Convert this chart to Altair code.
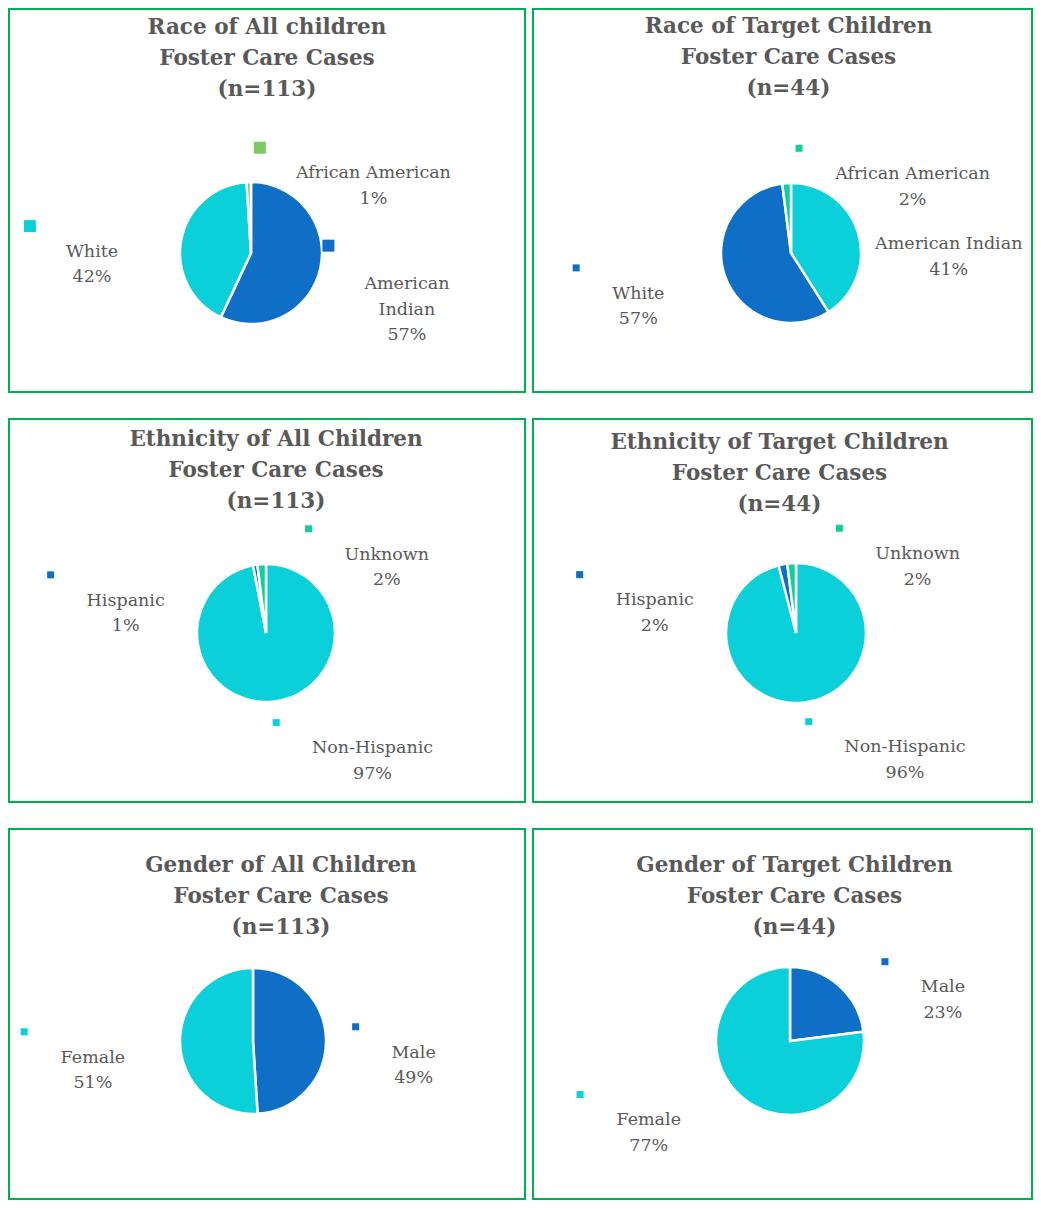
import math
import altair as alt
import pandas as pd

# ---------------- data ----------------
race_all_cats = ["American Indian", "White", "African American"]
race_all_vals = [57, 42, 1]
race_tgt_cats = ["American Indian", "White", "African American"]
race_tgt_vals = [41, 57, 2]
eth_all_cats = ["Non-Hispanic", "Hispanic", "Unknown"]
eth_all_vals = [97, 1, 2]
eth_tgt_cats = ["Non-Hispanic", "Hispanic", "Unknown"]
eth_tgt_vals = [96, 2, 2]
gen_all_cats = ["Male", "Female"]
gen_all_vals = [49, 51]
gen_tgt_cats = ["Male", "Female"]
gen_tgt_vals = [23, 77]

title_race_all = ["Race of All children", "Foster Care Cases", "(n=113)"]
title_race_tgt = ["Race of  Target Children", "Foster Care Cases", "(n=44)"]
title_eth_all = ["Ethnicity of All Children", "Foster Care Cases", "(n=113)"]
title_eth_tgt = ["Ethnicity of Target Children", "Foster Care Cases", "(n=44)"]
title_gen_all = ["Gender of All Children", "Foster Care Cases", "(n=113)"]
title_gen_tgt = ["Gender of Target Children", "Foster Care Cases", "(n=44)"]

# ---------------- styles ----------------
BLUE = "#0F6FC6"
CYAN = "#0BD0D9"
LGREEN = "#7CCA62"
TGREEN = "#10CF9B"
BORDER = "#00B050"
TEXT = "#595959"
FONT = "DejaVu Serif"
LABEL_SIZE = 17.5
LABEL_LH = 25.5
TITLE_SIZE = 21.5
TITLE_LH = 31

# approximate DejaVu Serif advance widths (em) for key placement
_W = {' ': .318, 'A': .722, 'C': .735, 'F': .683, 'H': .872, 'I': .42, 'M': 1.0,
      'N': .837, 'U': .812, 'W': 1.03, 'a': .596, 'c': .56, 'd': .64, 'e': .592,
      'f': .37, 'h': .644, 'i': .32, 'k': .62, 'l': .32, 'm': .948, 'n': .644,
      'o': .602, 'p': .64, 'r': .478, 's': .513, 't': .402, 'u': .644, 'w': .856,
      'y': .565, '-': .338, '%': .95}


def text_w(s):
    return sum(_W.get(ch, .636 if ch.isdigit() else .6) for ch in s) * LABEL_SIZE


def panel(cats, vals, colors, title_lines, W, H, cx, cy, R, key, tdx, ttop,
          names=None):
    total = float(sum(vals))
    n = len(vals)
    mids, cum = [], 0.0
    for v in vals:
        mids.append((cum + v / 2.0) / total)
        cum += v
    small_top = [i for i in range(n) if vals[i] / total < 0.05 and mids[i] > 0.9]
    recs = []
    for i, (c, v) in enumerate(zip(cats, vals)):
        if i in small_top:
            ang = 57.0 if i == small_top[-1] else 283.0
            r = R + 75
        else:
            deg = mids[i] * 360.0
            if deg < 180:
                ang = 90 + (deg - 90) * 0.5 + 5
            else:
                ang = 270 + (deg - 270) * 0.5 - 5
            r = R + 88
        lx = r * math.sin(math.radians(ang))
        ly = -r * math.cos(math.radians(ang))
        name = (names or {}).get(c, c)
        label = f"{name}\n{round(v / total * 100)}%"
        lines = label.split("\n")
        wmax = max(text_w(s) for s in lines)
        first_y = ly - (len(lines) - 1) * LABEL_LH / 2.0
        recs.append(dict(cat=c, value=v, ord=i, label=label, lx=lx, ly=ly,
                         kx=lx - wmax / 2.0 - 36, ky=first_y - 13))
    df = pd.DataFrame(recs)

    xs = alt.Scale(domain=[-cx, W - cx], range=[0, W], nice=False, zero=False)
    ys = alt.Scale(domain=[-cy, H - cy], range=[0, H], nice=False, zero=False)
    cs = alt.Scale(domain=cats, range=colors)

    base = alt.Chart(df)
    pie = base.mark_arc(radius=R, stroke="white", strokeWidth=2.5).encode(
        theta=alt.Theta("value:Q", stack=True),
        order=alt.Order("ord:Q"),
        color=alt.Color("cat:N", scale=cs, legend=None),
        x=alt.X(datum=0, type="quantitative", scale=xs, axis=None),
        y=alt.Y(datum=0, type="quantitative", scale=ys, axis=None),
    )
    labels = base.mark_text(lineBreak="\n", font=FONT, fontSize=LABEL_SIZE,
                            lineHeight=LABEL_LH, color=TEXT, align="center",
                            baseline="middle").encode(
        x=alt.X("lx:Q", scale=xs, axis=None),
        y=alt.Y("ly:Q", scale=ys, axis=None),
        text="label:N",
    )
    keys = base.mark_square(size=key * key, opacity=1).encode(
        x=alt.X("kx:Q", scale=xs, axis=None),
        y=alt.Y("ky:Q", scale=ys, axis=None),
        color=alt.Color("cat:N", scale=cs, legend=None),
    )
    title = alt.Chart(pd.DataFrame({"t": ["\n".join(title_lines)]})).mark_text(
        lineBreak="\n", font=FONT, fontSize=TITLE_SIZE, fontWeight="bold",
        lineHeight=TITLE_LH, color=TEXT, align="center", baseline="top",
    ).encode(
        text="t:N",
        x=alt.value(W / 2.0 + tdx),
        y=alt.value(ttop),
    )
    return alt.layer(pie, keys, labels, title).properties(width=W, height=H)


W1, W2 = 516, 499
H12, H3 = 383, 370

p1 = panel(race_all_cats, race_all_vals, [BLUE, CYAN, LGREEN], title_race_all,
           W1, H12, 242, 244, 71, 12, 0, 8,
           names={"American Indian": "American\nIndian"})
p2 = panel(race_tgt_cats, race_tgt_vals, [CYAN, BLUE, TGREEN], title_race_tgt,
           W2, H12, 258, 244, 70, 7, 6, 7)
p3 = panel(eth_all_cats, eth_all_vals, [CYAN, BLUE, TGREEN], title_eth_all,
           W1, H12, 257, 214, 69, 7, 9, 10)
p4 = panel(eth_tgt_cats, eth_tgt_vals, [CYAN, BLUE, TGREEN], title_eth_tgt,
           W2, H12, 263, 214, 70, 7, -3, 13)
p5 = panel(gen_all_cats, gen_all_vals, [BLUE, CYAN], title_gen_all,
           W1, H3, 244, 212, 73, 7, 14, 26)
p6 = panel(gen_tgt_cats, gen_tgt_vals, [BLUE, CYAN], title_gen_tgt,
           W2, H3, 257, 212, 74, 7, 12, 26)


def row(a, b):
    return alt.hconcat(a, b, spacing=6).resolve_scale(
        color="independent", x="independent", y="independent")


chart = alt.vconcat(row(p1, p2), row(p3, p4), row(p5, p6), spacing=25).resolve_scale(
    color="independent", x="independent", y="independent"
).properties(padding=0).configure_view(stroke=BORDER, strokeWidth=2)

chart.save("out.html", embed_options={"renderer": "svg", "actions": False})
